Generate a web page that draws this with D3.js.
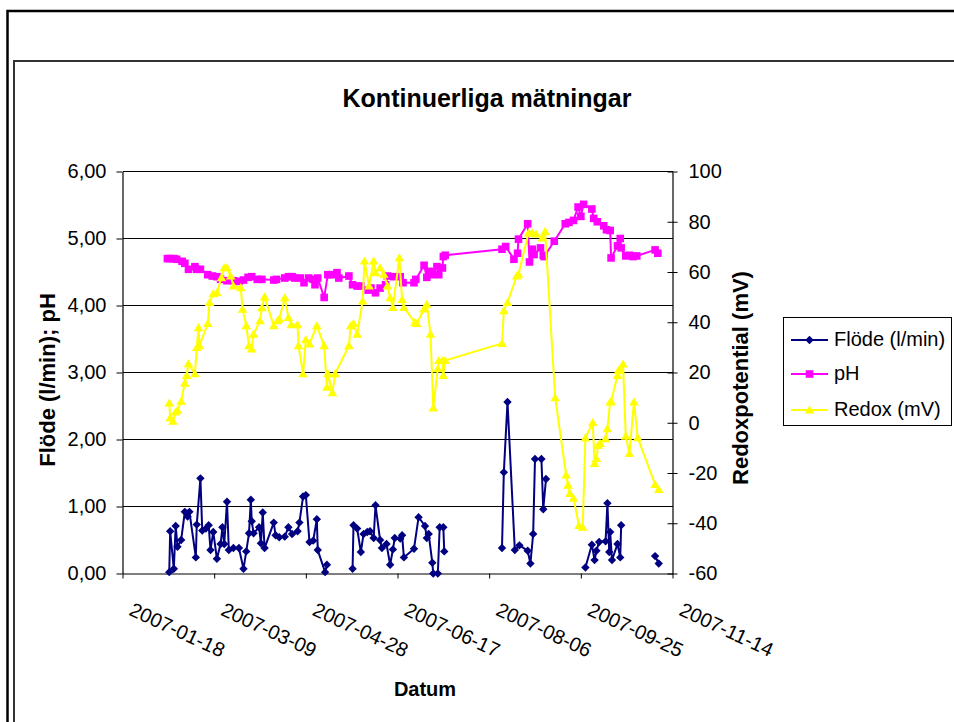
<!DOCTYPE html>
<html>
<head>
<meta charset="utf-8">
<script src="https://cdn.jsdelivr.net/npm/d3@7"></script>
<style>
  body { margin: 0; background: #fff; }
  svg text { font-family: "Liberation Sans", Arial, sans-serif; fill: #000; }
</style>
</head>
<body>
<svg id="chart" width="954" height="722"></svg>
<script>
// x-axis ticks, every 50 days
var xTicks = ["2007-01-18", "2007-03-09", "2007-04-28", "2007-06-17", "2007-08-06", "2007-09-25", "2007-11-14"];
var leftTicks = [0, 1, 2, 3, 4, 5, 6];
var rightTicks = [-60, -40, -20, 0, 20, 40, 60, 80, 100];
var seriesNames = ["Flöde (l/min)", "pH", "Redox (mV)"];

// Flöde (l/min), null = no measurement (gap in line)
var flode = [
  ["2007-02-12 12:00",0.02],["2007-02-13",0.63],["2007-02-15",0.07],["2007-02-16",0.71],["2007-02-17",0.40],
  ["2007-02-19",0.50],["2007-02-21",0.92],["2007-02-22 12:00",0.85],["2007-02-23 12:00",0.92],["2007-02-27",0.24],
  ["2007-02-27 12:00",0.73],["2007-03-01 12:00",1.42],["2007-03-02 12:00",0.64],["2007-03-04 12:00",0.67],["2007-03-06",0.72],
  ["2007-03-07",0.35],["2007-03-08 12:00",0.62],["2007-03-10 12:00",0.22],["2007-03-12 12:00",0.44],["2007-03-13 12:00",0.69],
  ["2007-03-14 12:00",0.44],["2007-03-16",1.07],["2007-03-17",0.35],["2007-03-19 12:00",0.38],["2007-03-22 12:00",0.38],
  ["2007-03-25",0.07],["2007-03-26 12:00",0.33],["2007-03-28",0.60],["2007-03-29",1.10],["2007-03-29 12:00",0.78],
  ["2007-03-30 12:00",0.60],["2007-04-02 12:00",0.69],["2007-04-03 12:00",0.45],["2007-04-04 12:00",0.91],["2007-04-05 12:00",0.38],
  ["2007-04-10 12:00",0.76],["2007-04-11 12:00",0.57],["2007-04-13 12:00",0.54],["2007-04-16 12:00",0.55],["2007-04-18 12:00",0.69],
  ["2007-04-20 12:00",0.59],["2007-04-23 12:00",0.63],["2007-04-24 12:00",0.76],["2007-04-26 12:00",1.15],["2007-04-28",1.17],
  ["2007-04-30",0.47],["2007-05-02",0.49],["2007-05-04",0.81],["2007-05-04 12:00",0.35],["2007-05-08 12:00",0.02],
  ["2007-05-09 12:00",0.13],["2007-05-16",null],
  ["2007-05-23 12:00",0.07],["2007-05-24",0.72],["2007-05-26",0.67],["2007-05-28",0.32],["2007-05-29 12:00",0.59],
  ["2007-05-31 12:00",0.62],["2007-06-02",0.63],["2007-06-04",0.53],["2007-06-05",1.02],["2007-06-07 12:00",0.50],
  ["2007-06-08 12:00",0.38],["2007-06-11",0.44],["2007-06-13",0.13],["2007-06-14 12:00",0.36],["2007-06-15 12:00",0.53],
  ["2007-06-18 12:00",0.52],["2007-06-19 12:00",0.57],["2007-06-20 12:00",0.24],["2007-06-26",0.37],["2007-06-28 12:00",0.84],
  ["2007-07-02",0.71],["2007-07-03",0.53],["2007-07-04",0.59],["2007-07-06",0.16],["2007-07-06 12:00",0.00],
  ["2007-07-09",0.00],["2007-07-10",0.69],["2007-07-12",0.69],["2007-07-12 12:00",0.33],["2007-07-13",null],
  ["2007-08-13",0.38],["2007-08-14",1.51],["2007-08-16",2.56],["2007-08-20",0.35],["2007-08-22 12:00",0.42],
  ["2007-08-27",0.34],["2007-08-28 12:00",0.15],["2007-08-30",0.59],["2007-08-31",1.71],["2007-09-03 12:00",1.71],
  ["2007-09-04 12:00",0.96],["2007-09-06",1.41],["2007-09-10",null],
  ["2007-09-27 12:00",0.09],["2007-10-01",0.43],["2007-10-02 12:00",0.20],["2007-10-03 12:00",0.34],["2007-10-05",0.47],
  ["2007-10-08 12:00",0.48],["2007-10-09 12:00",1.05],["2007-10-10 12:00",0.32],["2007-10-11",0.62],["2007-10-12",0.20],
  ["2007-10-15",0.44],["2007-10-16 12:00",0.24],["2007-10-17",0.72],["2007-10-19",null],
  ["2007-11-04 12:00",0.26],["2007-11-06 12:00",0.15]
];

var ph = [
  ["2007-02-11 12:00",4.70],["2007-02-13",4.70],["2007-02-15",4.70],["2007-02-16 12:00",4.69],["2007-02-19 12:00",4.66],
  ["2007-02-21",4.63],["2007-02-23",4.54],["2007-02-26 12:00",4.58],["2007-02-27 12:00",4.54],["2007-03-01 12:00",4.54],
  ["2007-03-05 12:00",4.46],["2007-03-08",4.44],["2007-03-10 12:00",4.43],["2007-03-12 12:00",4.39],["2007-03-16",4.37],
  ["2007-03-19 12:00",4.37],["2007-03-22 12:00",4.36],["2007-03-25",4.38],["2007-03-27 12:00",4.42],["2007-03-29 12:00",4.43],
  ["2007-04-01 12:00",4.39],["2007-04-04",4.39],["2007-04-10 12:00",4.38],["2007-04-12",4.39],["2007-04-16 12:00",4.41],
  ["2007-04-18 12:00",4.43],["2007-04-20 12:00",4.43],["2007-04-22",4.41],["2007-04-25",4.41],["2007-04-27",4.34],
  ["2007-04-29 12:00",4.41],["2007-05-02",4.39],["2007-05-03",4.31],["2007-05-04 12:00",4.41],["2007-05-08",4.12],
  ["2007-05-10",4.46],["2007-05-12",4.46],["2007-05-15",4.49],["2007-05-16",4.41],["2007-05-21 12:00",4.44],
  ["2007-05-23 12:00",4.31],["2007-05-26",4.29],["2007-05-28",4.29],["2007-06-01",4.23],["2007-06-02 12:00",4.26],
  ["2007-06-05",4.19],["2007-06-07 12:00",4.26],["2007-06-10 12:00",4.31],["2007-06-11 12:00",4.44],["2007-06-15",4.43],
  ["2007-06-18 12:00",4.43],["2007-06-20",4.34],["2007-06-26",4.34],["2007-06-27",4.39],["2007-07-01 12:00",4.60],
  ["2007-07-03",4.42],["2007-07-04 12:00",4.51],["2007-07-06",4.46],["2007-07-08 12:00",4.58],["2007-07-09 12:00",4.46],
  ["2007-07-11 12:00",4.56],["2007-07-12",4.73],["2007-07-13",4.75],["2007-08-13",4.84],["2007-08-15",4.88],
  ["2007-08-19 12:00",4.69],["2007-08-21 12:00",4.78],["2007-08-22",4.99],["2007-08-27",5.22],["2007-08-28",4.65],
  ["2007-08-29 12:00",4.84],["2007-08-30 12:00",4.76],["2007-09-03",4.86],["2007-09-04 12:00",4.75],["2007-09-05",4.73],
  ["2007-09-10 12:00",4.96],["2007-09-16 12:00",5.22],["2007-09-18 12:00",5.24],["2007-09-21",5.27],["2007-09-23 12:00",5.47],
  ["2007-09-25",5.33],["2007-09-26 12:00",5.51],["2007-10-01",5.44],["2007-10-02",5.30],["2007-10-04",5.25],
  ["2007-10-07 12:00",5.19],["2007-10-09",5.13],["2007-10-11",5.12],["2007-10-11 12:00",4.71],["2007-10-15",4.89],
  ["2007-10-16 12:00",5.00],["2007-10-17",4.86],["2007-10-19 12:00",4.74],["2007-10-21 12:00",4.75],["2007-10-23 12:00",4.73],
  ["2007-10-25 12:00",4.74],["2007-11-04 12:00",4.83],["2007-11-06",4.78]
];

var redox = [
  ["2007-02-12 12:00",7.9],["2007-02-13",2.0],["2007-02-14 12:00",0.6],["2007-02-16",4.3],["2007-02-17",5.0],
  ["2007-02-19",8.6],["2007-02-21",15.8],["2007-02-22",18.8],["2007-02-23",23.5],["2007-02-26 12:00",19.5],
  ["2007-02-27 12:00",30.0],["2007-02-28 12:00",37.9],["2007-03-01",30.7],["2007-03-05 12:00",39.5],["2007-03-06 12:00",47.9],
  ["2007-03-08 12:00",51.4],["2007-03-10 12:00",51.8],["2007-03-13",57.8],["2007-03-14 12:00",61.7],["2007-03-16",61.7],
  ["2007-03-18",58.4],["2007-03-19 12:00",54.5],["2007-03-23 12:00",53.8],["2007-03-24 12:00",45.2],["2007-03-26 12:00",38.6],
  ["2007-03-28",30.7],["2007-03-29 12:00",29.4],["2007-03-30 12:00",35.3],["2007-04-03",40.6],["2007-04-04",45.8],
  ["2007-04-05 12:00",50.1],["2007-04-10 12:00",38.6],["2007-04-12 12:00",40.6],["2007-04-13 12:00",41.3],["2007-04-16 12:00",49.8],
  ["2007-04-18 12:00",41.9],["2007-04-20",39.0],["2007-04-23 12:00",39.0],["2007-04-24",30.7],["2007-04-26 12:00",19.5],
  ["2007-04-28",33.1],["2007-04-30",31.4],["2007-05-04",38.6],["2007-05-08",30.7],["2007-05-09 12:00",14.2],
  ["2007-05-10",19.5],["2007-05-12 12:00",12.0],["2007-05-14",19.5],["2007-05-21 12:00",30.7],["2007-05-22 12:00",38.6],
  ["2007-05-24",39.5],["2007-05-26",35.3],["2007-05-29",48.5],["2007-05-30",64.4],["2007-06-01 12:00",54.5],
  ["2007-06-04",64.4],["2007-06-05",59.7],["2007-06-07 12:00",61.7],["2007-06-09 12:00",59.1],["2007-06-11 12:00",54.5],
  ["2007-06-13",49.8],["2007-06-14 12:00",45.9],["2007-06-18",65.7],["2007-06-19 12:00",49.1],["2007-06-20 12:00",45.9],
  ["2007-06-26 12:00",39.9],["2007-06-27 12:00",39.5],["2007-07-01 12:00",45.3],["2007-07-03",47.2],["2007-07-05",35.3],
  ["2007-07-06 12:00",5.9],["2007-07-09",21.5],["2007-07-09 12:00",24.8],["2007-07-11 12:00",24.8],["2007-07-12",18.8],
  ["2007-07-13",24.8],["2007-08-13",31.6],["2007-08-14",44.6],["2007-08-16",47.9],["2007-08-21",58.4],
  ["2007-08-22",59.1],["2007-08-27 12:00",75.6],["2007-08-29 12:00",75.6],["2007-08-31 12:00",75.2],["2007-09-04",73.6],
  ["2007-09-05 12:00",76.2],["2007-09-11",10.0],["2007-09-17",-20.8],["2007-09-18",-24.8],["2007-09-19",-28.1],
  ["2007-09-21",-30.0],["2007-09-24",-40.9],["2007-09-26",-41.6],["2007-09-27 12:00",-6.0],["2007-10-01 12:00",0.1],
  ["2007-10-02 12:00",-16.2],["2007-10-03 12:00",-14.2],["2007-10-04 12:00",-8.9],["2007-10-05 12:00",-8.2],["2007-10-08 12:00",-6.3],
  ["2007-10-09 12:00",-2.3],["2007-10-11",8.3],["2007-10-11 12:00",8.6],["2007-10-15",18.8],["2007-10-15 12:00",20.8],
  ["2007-10-16 12:00",20.8],["2007-10-18",23.4],["2007-10-19 12:00",-5.3],["2007-10-21 12:00",-12.2],["2007-10-24",8.3],
  ["2007-10-26",-5.9],["2007-11-04 12:00",-24.5],["2007-11-06 12:00",-26.5]
];

var parseDay = d3.timeParse("%Y-%m-%d"),
    parseHour = d3.timeParse("%Y-%m-%d %H:%M");
function toDate(s) { return s.length > 10 ? parseHour(s) : parseDay(s); }

var svg = d3.select("#chart"),
    plotLeft = 122.5, plotRight = 672.5, plotTop = 171.5, plotBottom = 573.5;

var x = d3.scaleTime()
    .domain([toDate(xTicks[0]), toDate(xTicks[xTicks.length - 1])])
    .range([plotLeft, plotRight]);
var yLeft = d3.scaleLinear().domain([0, 6]).range([plotBottom, plotTop]);
var yRight = d3.scaleLinear().domain([-60, 100]).range([plotBottom, plotTop]);

svg.append("rect").attr("width", 954).attr("height", 722).attr("fill", "#fff");

// outer frame and chart area border (both run off the right/bottom edge)
svg.append("rect")
    .attr("x", 7.5).attr("y", 11).attr("width", 1000).attr("height", 800)
    .attr("fill", "none").attr("stroke", "#000").attr("stroke-width", 2.5);
svg.append("rect")
    .attr("x", 14).attr("y", 61).attr("width", 1000).attr("height", 800)
    .attr("fill", "none").attr("stroke", "#333").attr("stroke-width", 2);

// horizontal gridlines
svg.append("g").selectAll("line")
  .data(leftTicks.slice(1))
  .enter().append("line")
    .attr("x1", plotLeft).attr("x2", plotRight)
    .attr("y1", function(d) { return yLeft(d); })
    .attr("y2", function(d) { return yLeft(d); })
    .attr("stroke", "#000").attr("stroke-width", 1)
    .attr("shape-rendering", "crispEdges");

function styleAxis(g) {
  g.attr("font-family", null).attr("font-size", null);
  g.selectAll("path.domain").attr("stroke", "#000").attr("stroke-width", 1.2);
  g.selectAll(".tick line").attr("stroke", "#000").attr("stroke-width", 1);
  g.selectAll(".tick text").style("font-size", "20px").attr("fill", "#000");
}

var gLeft = svg.append("g")
    .attr("transform", "translate(" + plotLeft + ",0)")
    .call(d3.axisLeft(yLeft)
      .tickValues(leftTicks)
      .tickSize(6).tickSizeOuter(0).tickPadding(10)
      .tickFormat(function(d) { return d3.format(".2f")(d).replace(".", ","); }))
    .call(styleAxis);

var gRight = svg.append("g")
    .attr("transform", "translate(" + plotRight + ",0)")
    .call(d3.axisRight(yRight)
      .tickValues(rightTicks)
      .tickSize(5).tickSizeOuter(0).tickPadding(11)
      .tickFormat(function(d) { return String(d); }))
    .call(styleAxis);
gRight.selectAll(".tick line").attr("x1", -5);

var gBottom = svg.append("g")
    .attr("transform", "translate(0," + plotBottom + ")")
    .call(d3.axisBottom(x)
      .tickValues(xTicks.map(toDate))
      .tickSize(5).tickSizeOuter(0)
      .tickFormat(d3.timeFormat("%Y-%m-%d")))
    .call(styleAxis);
gBottom.selectAll(".tick text")
    .attr("x", 0).attr("y", 0).attr("dy", null)
    .attr("text-anchor", "start")
    .attr("transform", "translate(5,41) rotate(25)");

// series
var markers = {
  diamond: "M0,-4.2L4.2,0L0,4.2L-4.2,0Z",
  square: "M-3.8,-3.8h7.6v7.6h-7.6Z",
  triangle: "M0,-4.5L4.8,3.6L-4.8,3.6Z"
};

var series = [
  { name: seriesNames[0], data: flode, scale: yLeft, color: "#000080", marker: markers.diamond },
  { name: seriesNames[1], data: ph, scale: yLeft, color: "#FF00FF", marker: markers.square },
  { name: seriesNames[2], data: redox, scale: yRight, color: "#FFFF00", marker: markers.triangle }
];

series.forEach(function(s) {
  var line = d3.line()
      .defined(function(d) { return d[1] != null; })
      .x(function(d) { return x(toDate(d[0])); })
      .y(function(d) { return s.scale(d[1]); });

  svg.append("path")
      .datum(s.data)
      .attr("d", line)
      .attr("fill", "none")
      .attr("stroke", s.color)
      .attr("stroke-width", 2);

  svg.append("g").selectAll("path")
    .data(s.data.filter(function(d) { return d[1] != null; }))
    .enter().append("path")
      .attr("d", s.marker)
      .attr("transform", function(d) { return "translate(" + x(toDate(d[0])) + "," + s.scale(d[1]) + ")"; })
      .attr("fill", s.color);
});

// legend
var legend = svg.append("g");
legend.append("rect")
    .attr("x", 783.5).attr("y", 317.5).attr("width", 168).attr("height", 108)
    .attr("fill", "#fff").attr("stroke", "#000").attr("stroke-width", 1);

var item = legend.selectAll("g.item")
  .data(series)
  .enter().append("g")
    .attr("class", "item")
    .attr("transform", function(d, i) { return "translate(0," + [340, 374, 410][i] + ")"; });
item.append("line")
    .attr("x1", 791).attr("x2", 828)
    .attr("stroke", function(d) { return d.color; })
    .attr("stroke-width", 2);
item.append("path")
    .attr("d", function(d) { return d.marker; })
    .attr("transform", "translate(809.5,0)")
    .attr("fill", function(d) { return d.color; });
item.append("text")
    .attr("x", 834).attr("y", 6)
    .style("font-size", "20px")
    .text(function(d) { return d.name; });

// titles
svg.append("text")
    .attr("x", 487).attr("y", 107)
    .attr("text-anchor", "middle")
    .style("font-size", "25px").style("font-weight", "bold")
    .text("Kontinuerliga mätningar");

svg.append("text")
    .attr("x", 425).attr("y", 696)
    .attr("text-anchor", "middle")
    .style("font-size", "20px").style("font-weight", "bold")
    .text("Datum");

svg.append("text")
    .attr("transform", "translate(55,380) rotate(-90)")
    .attr("text-anchor", "middle")
    .style("font-size", "22px").style("font-weight", "bold")
    .text("Flöde (l/min); pH");

svg.append("text")
    .attr("transform", "translate(748,378) rotate(-90)")
    .attr("text-anchor", "middle")
    .style("font-size", "22px").style("font-weight", "bold")
    .text("Redoxpotential (mV)");
</script>
</body>
</html>
